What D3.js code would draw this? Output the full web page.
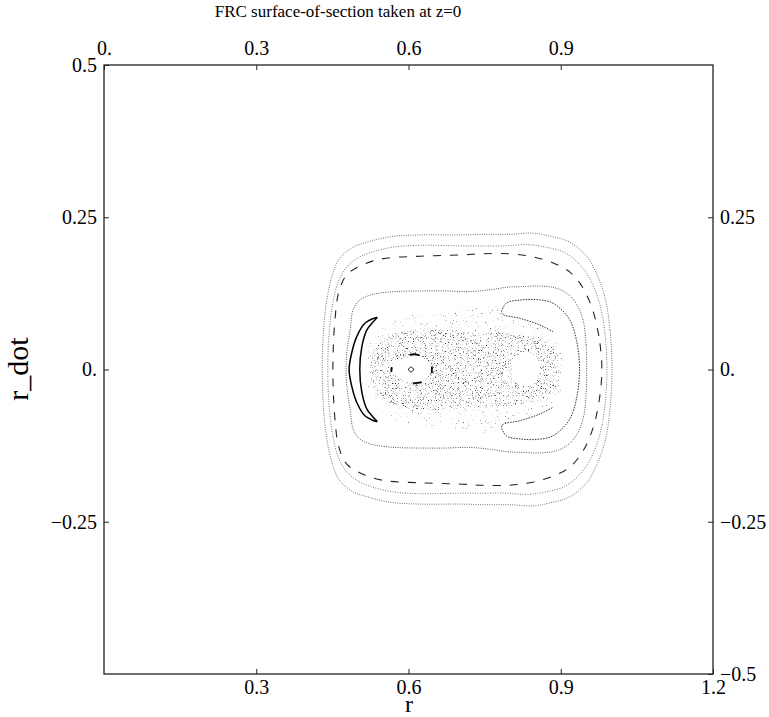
<!DOCTYPE html>
<html>
<head>
<meta charset="utf-8">
<script src="https://cdn.jsdelivr.net/npm/d3@7"></script>
<style>
  html, body { margin: 0; padding: 0; background: #fff; }
  svg { display: block; }
  text { font-family: "Liberation Serif", "DejaVu Serif", serif; fill: #000; }
</style>
</head>
<body>
<svg id="chart" width="769" height="717"></svg>
<script>
// Surface of section (r, r_dot) at z = 0 for an FRC orbit family.

// Axis ticks and their printed labels
const xTicksBottom = [0.3, 0.6, 0.9, 1.2];
const xTicksTop = [0, 0.3, 0.6, 0.9];
const yTicksLeft = [0.5, 0.25, 0, -0.25];
const yTicksRight = [0.25, 0, -0.25, -0.5];
const tickText = { "0": "0.", "0.3": "0.3", "0.6": "0.6", "0.9": "0.9", "1.2": "1.2",
  "0.5": "0.5", "0.25": "0.25", "-0.25": "\u22120.25", "-0.5": "\u22120.5" };

// Invariant curves, [r, r_dot] in order around each closed orbit
const orbitOuter = [
  [1.001, 0], [0.997, 0.065], [0.987, 0.119], [0.969, 0.160], [0.952, 0.185], [0.918, 0.209],
  [0.879, 0.219], [0.845, 0.224], [0.800, 0.222], [0.755, 0.222], [0.701, 0.221], [0.623, 0.221],
  [0.564, 0.218], [0.514, 0.208], [0.491, 0.201], [0.465, 0.183], [0.451, 0.158], [0.439, 0.114],
  [0.432, 0.057], [0.430, 0], [0.432, -0.057], [0.439, -0.114], [0.451, -0.158], [0.465, -0.183],
  [0.491, -0.201], [0.514, -0.208], [0.564, -0.218], [0.623, -0.221], [0.701, -0.221], [0.755, -0.222],
  [0.800, -0.222], [0.845, -0.224], [0.879, -0.219], [0.918, -0.209], [0.952, -0.185], [0.969, -0.160],
  [0.987, -0.119], [0.997, -0.065]
];
const orbitSecond = [
  [0.991, 0], [0.987, 0.060], [0.976, 0.110], [0.958, 0.148], [0.940, 0.170], [0.908, 0.192],
  [0.870, 0.201], [0.835, 0.205], [0.790, 0.203], [0.745, 0.203], [0.700, 0.203], [0.623, 0.204],
  [0.570, 0.201], [0.525, 0.192], [0.500, 0.183], [0.477, 0.167], [0.462, 0.145], [0.450, 0.105],
  [0.443, 0.053], [0.441, 0], [0.443, -0.053], [0.450, -0.105], [0.462, -0.145], [0.477, -0.167],
  [0.500, -0.183], [0.525, -0.192], [0.570, -0.201], [0.623, -0.204], [0.700, -0.203], [0.745, -0.203],
  [0.790, -0.203], [0.835, -0.205], [0.870, -0.201], [0.908, -0.192], [0.940, -0.170], [0.958, -0.148],
  [0.976, -0.110], [0.987, -0.060]
];
const orbitDashed = [
  [0.981, 0], [0.975, 0.055], [0.962, 0.100], [0.943, 0.135], [0.918, 0.160], [0.885, 0.175],
  [0.845, 0.185], [0.800, 0.190], [0.745, 0.190], [0.700, 0.188], [0.623, 0.186], [0.550, 0.182],
  [0.510, 0.172], [0.478, 0.155], [0.462, 0.125], [0.455, 0.080], [0.452, 0.040], [0.451, 0],
  [0.452, -0.040], [0.455, -0.080], [0.462, -0.125], [0.478, -0.155], [0.510, -0.172], [0.550, -0.182],
  [0.623, -0.186], [0.700, -0.188], [0.745, -0.190], [0.800, -0.190], [0.845, -0.185], [0.885, -0.175],
  [0.918, -0.160], [0.943, -0.135], [0.962, -0.100], [0.975, -0.055]
];
const orbitInner = [
  [0.951, 0], [0.950, 0.040], [0.944, 0.081], [0.930, 0.109], [0.912, 0.125], [0.889, 0.134],
  [0.859, 0.137], [0.820, 0.136], [0.794, 0.135], [0.761, 0.131], [0.721, 0.128], [0.672, 0.129],
  [0.623, 0.129], [0.573, 0.128], [0.540, 0.125], [0.524, 0.122], [0.504, 0.114], [0.491, 0.098],
  [0.485, 0.065], [0.479, 0.032], [0.477, 0], [0.479, -0.032], [0.485, -0.065], [0.491, -0.098],
  [0.504, -0.114], [0.524, -0.122], [0.540, -0.125], [0.573, -0.128], [0.623, -0.129], [0.672, -0.129],
  [0.721, -0.128], [0.761, -0.131], [0.794, -0.135], [0.820, -0.136], [0.859, -0.137], [0.889, -0.134],
  [0.912, -0.125], [0.930, -0.109], [0.944, -0.081], [0.950, -0.040]
];
// Crescent island on the inner side
const crescent = [
  [0.538, 0.0854], [0.514, 0.076], [0.498, 0.054], [0.488, 0.027], [0.483, 0],
  [0.488, -0.027], [0.498, -0.054], [0.514, -0.076], [0.538, -0.0854],
  [0.530, -0.078], [0.518, -0.065], [0.508, -0.037], [0.504, 0],
  [0.508, 0.037], [0.518, 0.065], [0.530, 0.078]
];
// Open banana-shaped orbit wrapped around the outer island
const banana = [
  [0.885, 0.062], [0.859, 0.073], [0.820, 0.084], [0.784, 0.092], [0.793, 0.109], [0.820, 0.114],
  [0.846, 0.115], [0.879, 0.111], [0.899, 0.100], [0.918, 0.081], [0.931, 0.048], [0.937, 0],
  [0.931, -0.048], [0.918, -0.081], [0.899, -0.100], [0.879, -0.111], [0.846, -0.115], [0.820, -0.114],
  [0.793, -0.109], [0.784, -0.092], [0.820, -0.084], [0.859, -0.073], [0.885, -0.062]
];
// Chaotic sea: outer (sparse) and core (dense) extents
const seaOuter = [
  [0.516, 0], [0.520, 0.032], [0.530, 0.057], [0.554, 0.073], [0.583, 0.086], [0.623, 0.093],
  [0.672, 0.096], [0.721, 0.101], [0.770, 0.104], [0.784, 0.093], [0.820, 0.081], [0.859, 0.070],
  [0.885, 0.058], [0.900, 0.035], [0.906, 0], [0.900, -0.035], [0.885, -0.058], [0.859, -0.070],
  [0.820, -0.081], [0.784, -0.093], [0.770, -0.104], [0.721, -0.101], [0.672, -0.096], [0.623, -0.093],
  [0.583, -0.086], [0.554, -0.073], [0.530, -0.057], [0.520, -0.032]
];
const seaCore = [
  [0.526, 0], [0.530, 0.029], [0.552, 0.050], [0.589, 0.062], [0.656, 0.067], [0.721, 0.063],
  [0.786, 0.060], [0.833, 0.055], [0.873, 0.045], [0.895, 0.022], [0.900, 0], [0.895, -0.022],
  [0.873, -0.045], [0.833, -0.055], [0.786, -0.060], [0.721, -0.063], [0.656, -0.067], [0.589, -0.062],
  [0.552, -0.050], [0.530, -0.029]
];
// Regular islands inside the sea
const holeInner = [[0.646, 0], [0.635, 0.0145], [0.608, 0.0205], [0.580, 0.0145], [0.569, 0],
  [0.580, -0.0145], [0.608, -0.0205], [0.635, -0.0145]];
const holeOuter = [[0.859, 0], [0.851, 0.020], [0.831, 0.028], [0.811, 0.020], [0.803, 0],
  [0.811, -0.020], [0.831, -0.028], [0.851, -0.020]];
const centreOrbit = [[0.610, 0], [0.605, 0.004], [0.600, 0], [0.605, -0.004]];
const islandChain = [
  [[0.602, 0.024], [0.612, 0.025], [0.622, 0.023]],
  [[0.609, -0.023], [0.617, -0.022], [0.626, -0.021]],
  [[0.567, 0.004], [0.566, -0.004]],
  [[0.646, 0.005], [0.646, -0.006]]
];

const svg = d3.select("#chart");
const x = d3.scaleLinear().domain([0, 1.2]).range([104, 713]);
const y = d3.scaleLinear().domain([-0.5, 0.5]).range([674, 65]);

const closed = d3.line().x(d => x(d[0])).y(d => y(d[1])).curve(d3.curveCatmullRomClosed.alpha(0.5));
const open = d3.line().x(d => x(d[0])).y(d => y(d[1])).curve(d3.curveCatmullRom.alpha(0.5));

// Speckle textures for the chaotic sea
const defs = svg.append("defs");
function speckle(id, seed, freq, thresh, gain) {
  const f = defs.append("filter").attr("id", id)
    .attr("x", "0").attr("y", "0").attr("width", "1").attr("height", "1")
    .attr("color-interpolation-filters", "sRGB");
  f.append("feTurbulence").attr("type", "fractalNoise").attr("baseFrequency", freq)
    .attr("numOctaves", 2).attr("seed", seed).attr("result", "n");
  f.append("feColorMatrix").attr("in", "n").attr("type", "matrix")
    .attr("values", `0 0 0 0 0.2  0 0 0 0 0.2  0 0 0 0 0.2  ${gain} 0 0 0 ${-gain * thresh}`);
}
speckle("spSparse", 7, 1.4, 0.68, 5);
speckle("spDense", 3, 1.4, 0.60, 4.5);

defs.append("clipPath").attr("id", "clipOuter").append("path").attr("d", closed(seaOuter));
defs.append("clipPath").attr("id", "clipCore").append("path").attr("d", closed(seaCore));

const sea = svg.append("g");
const bx = x(0.5), by = y(0.12), bw = x(0.92) - x(0.5), bh = y(-0.12) - y(0.12);
sea.append("rect").attr("x", bx).attr("y", by).attr("width", bw).attr("height", bh)
  .attr("fill", "#fff").attr("filter", "url(#spSparse)").attr("clip-path", "url(#clipOuter)");
sea.append("rect").attr("x", bx).attr("y", by).attr("width", bw).attr("height", bh)
  .attr("fill", "#fff").attr("filter", "url(#spDense)").attr("clip-path", "url(#clipCore)");

// Islands cut out of the sea
sea.append("path").attr("d", closed(holeInner)).attr("fill", "#fff");
sea.append("path").attr("d", closed(holeOuter)).attr("fill", "#fff");

const curves = svg.append("g").attr("fill", "none");
curves.append("path").attr("d", closed(orbitOuter))
  .attr("stroke", "#555").attr("stroke-width", 0.9).attr("stroke-dasharray", "0.9 1.4");
curves.append("path").attr("d", closed(orbitSecond))
  .attr("stroke", "#555").attr("stroke-width", 0.9).attr("stroke-dasharray", "0.9 1.6");
curves.append("path").attr("d", closed(orbitDashed))
  .attr("stroke", "#222").attr("stroke-width", 1.1).attr("stroke-dasharray", "8 9");
curves.append("path").attr("d", closed(orbitInner))
  .attr("stroke", "#444").attr("stroke-width", 0.9).attr("stroke-dasharray", "1 1.3");
curves.append("path").attr("d", open(banana))
  .attr("stroke", "#333").attr("stroke-width", 1).attr("stroke-dasharray", "1.5 1.2");
curves.append("path").attr("d", closed(crescent))
  .attr("stroke", "#000").attr("stroke-width", 1.5);
curves.append("path").attr("d", closed(centreOrbit))
  .attr("stroke", "#000").attr("stroke-width", 0.9);
islandChain.forEach(seg => curves.append("path").attr("d", open(seg))
  .attr("stroke", "#000").attr("stroke-width", 1.8));

// Frame
svg.append("rect").attr("x", 104).attr("y", 65).attr("width", 609).attr("height", 609)
  .attr("fill", "none").attr("stroke", "#222").attr("stroke-width", 1.3);

const fmt = v => tickText[String(v)];
const axisStyle = g => {
  g.select(".domain").remove();
  g.selectAll(".tick line").attr("stroke", "#222").attr("stroke-width", 1);
  g.selectAll(".tick text").style("font-size", "20px").attr("fill", "#000");
};
svg.append("g").attr("transform", "translate(0,674)")
  .call(d3.axisBottom(x).tickValues(xTicksBottom).tickFormat(fmt).tickSizeInner(-5).tickSizeOuter(0).tickPadding(6))
  .call(axisStyle);
svg.append("g").attr("transform", "translate(0,65)")
  .call(d3.axisTop(x).tickValues(xTicksTop).tickFormat(fmt).tickSizeInner(-5).tickSizeOuter(0).tickPadding(10))
  .call(axisStyle);
svg.append("g").attr("transform", "translate(104,0)")
  .call(d3.axisLeft(y).tickValues(yTicksLeft).tickFormat(fmt).tickSizeInner(-5).tickSizeOuter(0).tickPadding(7))
  .call(axisStyle);
svg.append("g").attr("transform", "translate(713,0)")
  .call(d3.axisRight(y).tickValues(yTicksRight).tickFormat(fmt).tickSizeInner(-5).tickSizeOuter(0).tickPadding(7))
  .call(axisStyle);

// Titles
svg.append("text").attr("x", 338).attr("y", 17).attr("text-anchor", "middle")
  .style("font-size", "17px").text("FRC surface-of-section taken at z=0");
svg.append("text").attr("x", 409).attr("y", 712).attr("text-anchor", "middle")
  .style("font-size", "24px").text("r");
svg.append("text").attr("transform", "translate(28,369) rotate(-90)").attr("text-anchor", "middle")
  .style("font-size", "30px").text("r_dot");
</script>
</body>
</html>
